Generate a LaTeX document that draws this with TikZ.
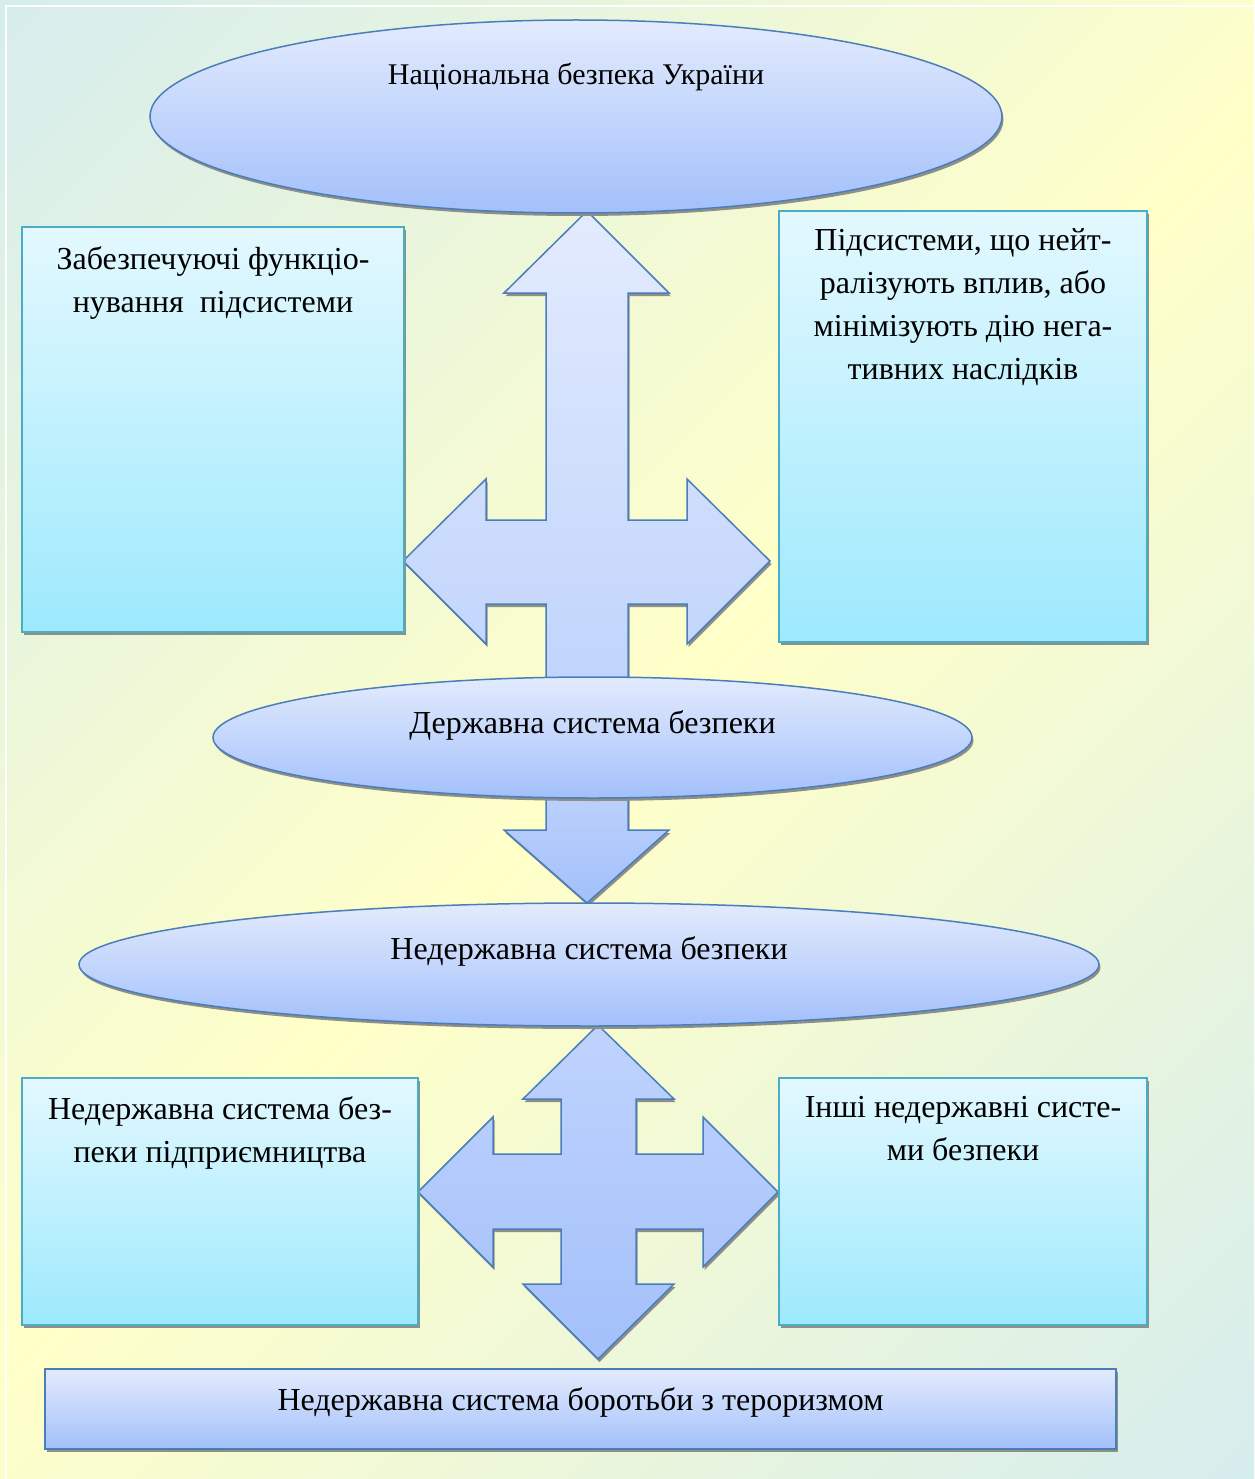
\documentclass[tikz,border=0pt]{standalone}
\usepackage{fontspec}
\setmainfont{Liberation Serif}
\usetikzlibrary{shapes.geometric,shadows,positioning}
\definecolor{bgteal}{HTML}{D6EDEE}
\definecolor{bgyellow}{HTML}{FFFFC8}
\definecolor{blueline}{HTML}{4A7EBB}
\definecolor{bluetop}{HTML}{E3EBFD}
\definecolor{bluebot}{HTML}{A3C0FB}
\definecolor{arrowmid}{HTML}{BFD3FC}
\definecolor{cyanline}{HTML}{4BACC6}
\definecolor{cyantop}{HTML}{E3F8FE}
\definecolor{cyanbot}{HTML}{9DE9FD}
\definecolor{shadowgray}{HTML}{8F8F86}
\pgfdeclareverticalshading{bgshading}{100bp}{color(0bp)=(bgteal); color(17.35bp)=(bgteal); color(50bp)=(bgyellow); color(82.65bp)=(bgteal); color(100bp)=(bgteal)}

\begin{document}
\begin{tikzpicture}[x=1pt,y=-1pt,
  shdw/.style={drop shadow={shadow xshift=1.5pt,shadow yshift=-3pt,fill=shadowgray,opacity=1}},
  ell/.style={ellipse,draw=blueline,line width=1.5pt,top color=bluetop,bottom color=bluebot,inner sep=0pt,shdw},
  box/.style={rectangle,draw=cyanline,line width=2pt,top color=cyantop,bottom color=cyanbot,inner sep=0pt,shdw},
  bar/.style={rectangle,draw=blueline,line width=2.5pt,top color=bluetop,bottom color=bluebot,inner sep=0pt,shdw},
  blockarrow/.style={draw=blueline,line width=1.5pt,line join=miter,shdw},
  txt/.style={align=center,inner sep=0pt,font=\fontsize{32}{43}\selectfont},
  smalltxt/.style={txt,font=\fontsize{30}{43}\selectfont}]
  \useasboundingbox (0,0) rectangle (1254,1479);
  \begin{scope}
    \clip (0,0) rectangle (1254,1479);
    \shade[shading=bgshading,shading angle=45] (-113,-0.5) rectangle (1367,1479.5);
  \end{scope}
  \draw[white,line width=2pt] (6,1479) -- (6,6) -- (1254,6);

  % block arrows
  \path[blockarrow,top color=bluetop,bottom color=arrowmid] (587,211) -- (669,293) -- (628,293) -- (628,520) -- (687,520) -- (687,479) -- (770,561) -- (687,644) -- (687,604) -- (628,604) -- (628,700) -- (546,700) -- (546,604) -- (486,604) -- (486,644) -- (403,561) -- (486,479) -- (486,520) -- (546,520) -- (546,293) -- (504,293) -- cycle;
  \path[blockarrow,top color=arrowmid,bottom color=bluebot] (546,780) -- (628,780) -- (628,830) -- (669,830) -- (587,903) -- (504,830) -- (546,830) -- cycle;
  \path[blockarrow,top color=arrowmid,bottom color=bluebot] (598,1025) -- (674,1099) -- (636,1099) -- (636,1154) -- (703,1154) -- (703,1117) -- (778,1192) -- (703,1267) -- (703,1229) -- (636,1229) -- (636,1284) -- (674,1284) -- (598,1359) -- (523,1284) -- (561,1284) -- (561,1229) -- (493,1229) -- (493,1267) -- (418,1192) -- (493,1117) -- (493,1154) -- (561,1154) -- (561,1099) -- (523,1099) -- cycle;

  % ellipses
  \node (nsu) at (576,116.5)[ell,minimum width=852pt,minimum height=193pt]{};
  \node (dss) at (592.5,737.5)[ell,minimum width=759pt,minimum height=121pt]{};
  \node (ndss) at (589,964.5)[ell,minimum width=1020pt,minimum height=123pt]{};
  \node (nsutxt) [smalltxt,below=44pt of nsu.north]{Національна безпека України};
  \node (dsstxt) [txt,below=34pt of dss.north]{Державна система безпеки};
  \node (ndsstxt) [txt,below=34pt of ndss.north]{Недержавна система безпеки};

  % boxes
  \node (lbox) at (213,429.5)[box,minimum width=382pt,minimum height=405pt]{};
  \node (rbox) at (963,426.5)[box,minimum width=368pt,minimum height=431pt]{};
  \node (blbox) at (220,1201.5)[box,minimum width=396pt,minimum height=247pt]{};
  \node (brbox) at (963,1201.5)[box,minimum width=368pt,minimum height=247pt]{};
  \node (lboxtxt) [txt,below=20pt of lbox.north]{Забезпечуючі функціо-\\нування\ \ підсистеми};
  \node (rboxtxt) [txt,below=18pt of rbox.north]{Підсистеми, що нейт-\\ралізують вплив, або\\мінімізують дію нега-\\тивних наслідків};
  \node (blboxtxt) [txt,below=19pt of blbox.north]{Недержавна система без-\\пеки підприємництва};
  \node (brboxtxt) [txt,below=19pt of brbox.north]{Інші недержавні систе-\\ми безпеки};

  \node (terror) at (580.5,1409)[bar,minimum width=1071pt,minimum height=80pt]{};
  \node (terrortxt) [txt,below=20pt of terror.north]{Недержавна система боротьби з тероризмом};
\end{tikzpicture}
\end{document}
